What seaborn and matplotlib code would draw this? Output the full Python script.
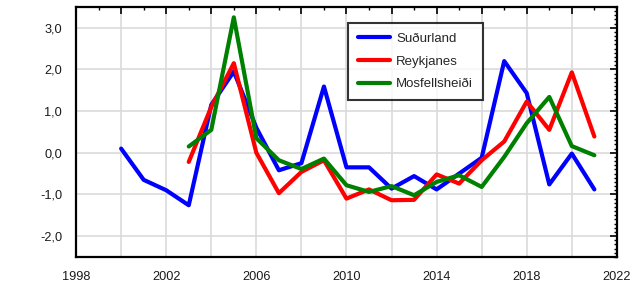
import numpy as np
import pandas as pd
import matplotlib
matplotlib.use('Agg')
import matplotlib.pyplot as plt
import matplotlib.ticker as ticker
import seaborn as sns

# ======================== 数据 ========================
years = list(range(2000, 2022))
sudurland = [0.10, -0.65, -0.90, -1.26, 1.15, 1.95, 0.60, -0.42, -0.25, 1.59,
             -0.35, -0.35, -0.86, -0.56, -0.88, -0.50, -0.12, 2.20, 1.43, -0.76,
             -0.02, -0.88]
reykjanes = [np.nan, np.nan, np.nan, -0.22, 1.10, 2.15, 0.00, -0.97, -0.46, -0.18,
             -1.10, -0.88, -1.14, -1.13, -0.52, -0.74, -0.18, 0.27, 1.23, 0.55,
             1.93, 0.39]
mosfellsheidi = [np.nan, np.nan, np.nan, 0.15, 0.55, 3.25, 0.35, -0.18, -0.39, -0.14,
                 -0.78, -0.94, -0.80, -1.02, -0.70, -0.54, -0.82, -0.10, 0.71, 1.34,
                 0.16, -0.06]
series_names = ['Suðurland', 'Reykjanes', 'Mosfellsheiði']
series_colors = ['#0000ff', '#ff0000', '#008000']

df = pd.DataFrame({'year': years, 'Suðurland': sudurland,
                   'Reykjanes': reykjanes, 'Mosfellsheiði': mosfellsheidi})
df_long = df.melt(id_vars='year', var_name='stöð', value_name='gildi').dropna()

# ======================== 绘图 ========================
sns.set_style('white')
plt.rcParams['font.family'] = ['Liberation Sans', 'DejaVu Sans']

fig = plt.figure(figsize=(6.34, 2.89), dpi=100)
ax = fig.add_axes([0.12, 0.111, 0.853, 0.865])

sns.lineplot(data=df_long, x='year', y='gildi', hue='stöð', hue_order=series_names,
             palette=series_colors, linewidth=3, ax=ax)

ax.set_xlim(1998, 2022)
ax.set_ylim(-2.5, 3.5)
ax.set_xlabel('')
ax.set_ylabel('')

# 主刻度每 2 年, 标签每 4 年
ax.xaxis.set_major_locator(ticker.MultipleLocator(2))
ax.xaxis.set_minor_locator(ticker.MultipleLocator(1))
ax.xaxis.set_major_formatter(ticker.FuncFormatter(
    lambda v, p: f'{int(round(v))}' if int(round(v)) % 4 == 2 else ''))
ax.yaxis.set_major_locator(ticker.MultipleLocator(1))
ax.yaxis.set_minor_locator(ticker.MultipleLocator(0.1))
ax.yaxis.set_major_formatter(ticker.FuncFormatter(
    lambda v, p: f'{v:.1f}'.replace('.', ',') if -2.4 < v < 3.4 else ''))

ax.grid(True, which='major', color='#dadada', linewidth=1.2)
ax.set_axisbelow(True)
ax.tick_params(which='both', direction='in', top=True, right=True,
               color='black', labelsize=9.2, labelcolor='#1a1a1a')
ax.tick_params(which='major', length=5, width=1.2)
ax.tick_params(which='minor', length=2.5, width=1.0)
ax.tick_params(axis='x', pad=10)
ax.tick_params(axis='y', pad=10)
for s in ax.spines.values():
    s.set_color('black')
    s.set_linewidth(1.6)

leg = ax.legend(loc='upper left', bbox_to_anchor=(0.503, 0.937), fontsize=9.5,
                frameon=True, fancybox=False, edgecolor='black', borderaxespad=0,
                handlelength=2.4, handletextpad=0.5, labelspacing=0.8,
                borderpad=0.75)
leg.get_frame().set_linewidth(1.5)
for line in leg.get_lines():
    line.set_linewidth(3)

plt.savefig('out.png', dpi=100)
